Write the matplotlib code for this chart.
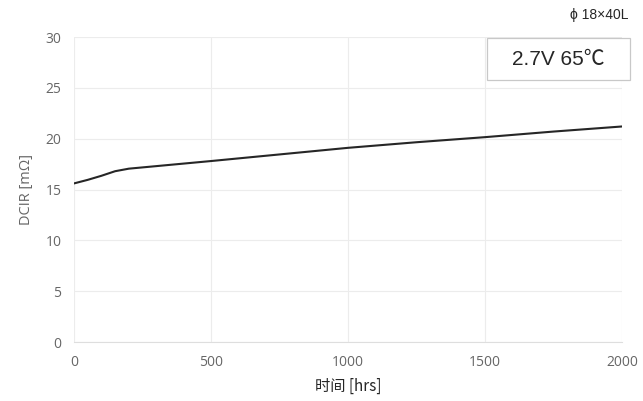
import numpy as np
import matplotlib
matplotlib.use('Agg')
import matplotlib.pyplot as plt
from matplotlib.patches import Rectangle

plt.rcParams['font.family'] = ['Open Sans', 'Noto Sans CJK SC', 'DejaVu Sans']

# dati
hours = [0, 50, 100, 150, 200, 300, 500, 750, 1000, 1250, 1500, 1750, 2000]
dcir = [15.6, 15.95, 16.35, 16.8, 17.05, 17.3, 17.8, 18.45, 19.1, 19.65, 20.15, 20.7, 21.2]

xticks = [0, 500, 1000, 1500, 2000]
yticks = [0, 5, 10, 15, 20, 25, 30]

fig = plt.figure(figsize=(6.43, 4.01), dpi=100)
ax = fig.add_axes([0.1151, 0.1471, 0.8522, 0.7606])

ax.plot(hours, dcir, color='#262626', lw=1.5)

ax.set_xlim(0, 2000)
ax.set_ylim(0, 30)
ax.set_xticks(xticks)
ax.set_yticks(yticks)
ax.grid(True, color='#ececec', lw=0.8)
ax.set_axisbelow(True)
for s in ['top', 'right', 'left']:
    ax.spines[s].set_visible(False)
ax.spines['bottom'].set_color('#dedede')
ax.tick_params(length=0, colors='#666666', labelsize=10, pad=9)

ax.set_xlabel('时间 [hrs]', fontsize=11, color='#262626', family='Noto Sans CJK SC', labelpad=6)
ax.set_ylabel('DCIR [mΩ]', fontsize=10.5, color='#666666', labelpad=8)

fig.text(0.977, 0.962, 'ϕ 18×40L', ha='right', va='center', fontsize=10, color='#262626',
         family=['Liberation Sans', 'Noto Sans CJK SC', 'DejaVu Sans'])
fig.patches.append(Rectangle((0.757, 0.8005), 0.2224, 0.1047, transform=fig.transFigure,
                             fc='white', ec='#c8c8c8', lw=0.9, zorder=5))
fig.text(0.868, 0.852, '2.7V 65℃', ha='center', va='center', fontsize=15, color='#262626',
         family=['Liberation Sans', 'Noto Sans CJK SC', 'DejaVu Sans'], zorder=6)

fig.savefig('out.png', dpi=100)
